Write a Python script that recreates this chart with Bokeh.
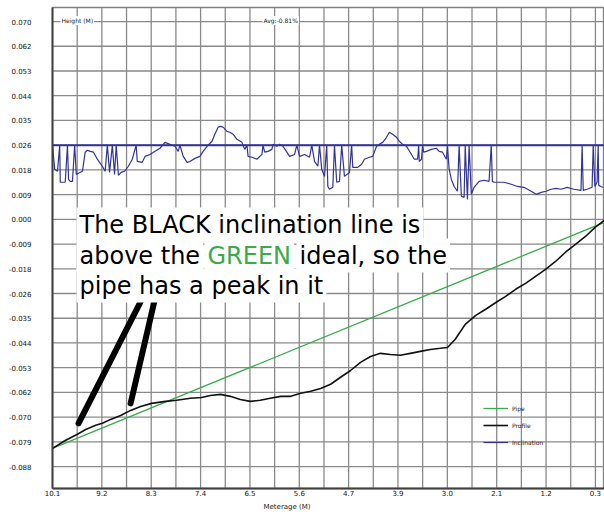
from bokeh.plotting import figure
from bokeh.models import Range1d, FixedTicker, Label, Legend, LegendItem, Span, Title
from bokeh.embed import file_html
from bokeh.resources import INLINE

# ---------------- data ----------------
x_ticks = [10.1, 9.209, 8.318, 7.427, 6.536, 5.645, 4.755, 3.864, 2.973, 2.082, 1.191, 0.3]
x_tick_labels = ["10.1", "9.2", "8.3", "7.4", "6.5", "5.6", "4.7", "3.9", "3.0", "2.1", "1.2", "0.3"]
x_grid = [10.1, 9.6545, 9.209, 8.7635, 8.318, 7.8725, 7.427, 6.9815, 6.536, 6.0905, 5.645,
          5.1995, 4.755, 4.3095, 3.864, 3.4185, 2.973, 2.5275, 2.082, 1.6365, 1.191, 0.7455, 0.3]
y_ticks = [-0.088, -0.0792, -0.0704, -0.0616, -0.0528, -0.044, -0.0352, -0.0264, -0.0176, -0.0088,
           0.0, 0.0088, 0.0176, 0.0264, 0.0352, 0.044, 0.0528, 0.0616, 0.0704]
y_tick_labels = ["-0.088", "-0.079", "-0.070", "-0.062", "-0.053", "-0.044", "-0.035", "-0.026",
                 "-0.018", "-0.009", "0.000", "0.009", "0.018", "0.026", "0.035", "0.044",
                 "0.053", "0.062", "0.070"]

incl_x = [10.10, 10.06, 10.01, 9.97, 9.96, 9.90, 9.87, 9.83, 9.81, 9.78,
          9.74, 9.70, 9.67, 9.63, 9.56, 9.51, 9.47, 9.42, 9.36, 9.29,
          9.25, 9.20, 9.15, 9.11, 9.07, 9.02, 8.98, 8.95, 8.91, 8.86,
          8.80, 8.73, 8.66, 8.59, 8.57, 8.48, 8.43, 8.34, 8.25, 8.16,
          8.07, 7.98, 7.89, 7.83, 7.80, 7.74, 7.67, 7.62, 7.53, 7.44,
          7.38, 7.31, 7.22, 7.17, 7.11, 7.06, 7.02, 6.95, 6.90, 6.84,
          6.77, 6.68, 6.63, 6.59, 6.57, 6.50, 6.41, 6.32, 6.30, 6.27,
          6.21, 6.14, 6.12, 6.05, 6.00, 5.94, 5.87, 5.82, 5.73, 5.69,
          5.64, 5.55, 5.46, 5.42, 5.37, 5.31, 5.28, 5.24, 5.19, 5.15,
          5.13, 5.10, 5.04, 5.01, 4.97, 4.92, 4.88, 4.83, 4.74, 4.70,
          4.68, 4.59, 4.52, 4.47, 4.38, 4.32, 4.25, 4.20, 4.14, 4.07,
          4.02, 3.96, 3.89, 3.84, 3.78, 3.71, 3.62, 3.57, 3.51, 3.49,
          3.48, 3.44, 3.42, 3.40, 3.35, 3.26, 3.17, 3.12, 3.06, 2.99,
          2.97, 2.95, 2.94, 2.90, 2.85, 2.79, 2.76, 2.72, 2.67, 2.65,
          2.61, 2.58, 2.54, 2.49, 2.40, 2.31, 2.22, 2.18, 2.16, 2.13,
          2.04, 1.95, 1.82, 1.71, 1.59, 1.46, 1.37, 1.28, 1.19, 1.10,
          1.01, 0.92, 0.81, 0.69, 0.56, 0.54, 0.52, 0.45, 0.36, 0.34,
          0.31, 0.27, 0.25, 0.24, 0.20, 0.16]
incl_y = [0.0264, 0.0178, 0.0171, 0.0264, 0.0132, 0.0132, 0.0132, 0.0264, 0.0142, 0.0135,
          0.0135, 0.0264, 0.0160, 0.0164, 0.0171, 0.0239, 0.0246, 0.0242, 0.0239, 0.0214,
          0.0203, 0.0189, 0.0171, 0.0264, 0.0167, 0.0264, 0.0160, 0.0264, 0.0157, 0.0167,
          0.0171, 0.0189, 0.0214, 0.0264, 0.0206, 0.0203, 0.0224, 0.0231, 0.0242, 0.0253,
          0.0274, 0.0267, 0.0260, 0.0242, 0.0264, 0.0224, 0.0203, 0.0206, 0.0217, 0.0224,
          0.0242, 0.0260, 0.0278, 0.0303, 0.0328, 0.0331, 0.0328, 0.0313, 0.0310, 0.0303,
          0.0285, 0.0274, 0.0249, 0.0264, 0.0224, 0.0221, 0.0214, 0.0231, 0.0264, 0.0239,
          0.0242, 0.0249, 0.0267, 0.0260, 0.0267, 0.0260, 0.0239, 0.0224, 0.0231, 0.0264,
          0.0224, 0.0231, 0.0221, 0.0264, 0.0206, 0.0189, 0.0264, 0.0178, 0.0153, 0.0264,
          0.0117, 0.0107, 0.0114, 0.0264, 0.0132, 0.0135, 0.0264, 0.0153, 0.0167, 0.0264,
          0.0185, 0.0185, 0.0196, 0.0214, 0.0221, 0.0224, 0.0260, 0.0267, 0.0274, 0.0292,
          0.0310, 0.0303, 0.0292, 0.0278, 0.0267, 0.0260, 0.0231, 0.0214, 0.0214, 0.0264,
          0.0206, 0.0214, 0.0264, 0.0239, 0.0242, 0.0249, 0.0253, 0.0242, 0.0239, 0.0214,
          0.0264, 0.0203, 0.0178, 0.0142, 0.0117, 0.0100, 0.0264, 0.0082, 0.0078, 0.0264,
          0.0071, 0.0264, 0.0089, 0.0114, 0.0135, 0.0139, 0.0135, 0.0264, 0.0135, 0.0132,
          0.0132, 0.0132, 0.0125, 0.0117, 0.0114, 0.0100, 0.0089, 0.0096, 0.0100, 0.0107,
          0.0110, 0.0107, 0.0114, 0.0107, 0.0103, 0.0264, 0.0103, 0.0107, 0.0114, 0.0264,
          0.0117, 0.0132, 0.0264, 0.0121, 0.0117, 0.0114]
incl_level = 0.0264

prof_x = [10.10, 9.87, 9.65, 9.50, 9.32, 9.20, 9.05, 8.87, 8.69, 8.51,
          8.31, 8.06, 7.86, 7.61, 7.41, 7.25, 7.07, 6.89, 6.71, 6.53,
          6.35, 6.17, 5.98, 5.80, 5.62, 5.44, 5.26, 5.08, 4.90, 4.72,
          4.54, 4.36, 4.18, 4.00, 3.82, 3.64, 3.46, 3.28, 3.10, 2.97,
          2.83, 2.65, 2.46, 2.28, 2.09, 1.92, 1.74, 1.56, 1.38, 1.20,
          1.02, 0.84, 0.66, 0.48, 0.30, 0.14]
prof_y = [-0.0815, -0.0787, -0.0765, -0.0748, -0.0733, -0.0726, -0.0712, -0.0698, -0.0680, -0.0666,
          -0.0655, -0.0648, -0.0644, -0.0637, -0.0634, -0.0627, -0.0623, -0.0630, -0.0641, -0.0648,
          -0.0644, -0.0637, -0.0630, -0.0630, -0.0619, -0.0612, -0.0602, -0.0587, -0.0562, -0.0538,
          -0.0509, -0.0488, -0.0477, -0.0481, -0.0484, -0.0477, -0.0470, -0.0463, -0.0459, -0.0456,
          -0.0427, -0.0374, -0.0342, -0.0320, -0.0295, -0.0274, -0.0249, -0.0228, -0.0203, -0.0178,
          -0.0150, -0.0117, -0.0089, -0.0061, -0.0028, -0.0004]

pipe_x = [10.10, 0.14]
pipe_y = [-0.0815, -0.0011]

# hand-drawn pointer strokes (annotation)
mark_x0 = [9.63, 8.69]
mark_y0 = [-0.0726, -0.0655]
mark_x1 = [8.46, 8.24]
mark_y1 = [-0.0274, -0.0274]

NAVY = "#33339a"
GREEN = "#3aaa4a"
BLACK = "#111111"
GRID = "#8a8a8a"

X0, X1 = 10.1, 0.136
Y0, Y1 = -0.0958, 0.0754

p = figure(width=604, height=514,
           x_range=Range1d(X0, X1), y_range=Range1d(Y0, Y1),
           output_backend="svg", toolbar_location=None,
           min_border_left=52, min_border_right=0, min_border_top=7, min_border_bottom=26)

p.outline_line_color = "#808080"
p.outline_line_width = 1.3

# axes
p.xaxis.ticker = FixedTicker(ticks=x_ticks)
p.xaxis.major_label_overrides = {t: l for t, l in zip(x_ticks, x_tick_labels)}
p.yaxis.ticker = FixedTicker(ticks=y_ticks)
p.yaxis.major_label_overrides = {t: l for t, l in zip(y_ticks, y_tick_labels)}
for ax in (p.xaxis, p.yaxis):
    ax.major_tick_out = 0
    ax.major_tick_in = 0
    ax.minor_tick_out = 0
    ax.minor_tick_in = 0
    ax.axis_line_color = "#404040"
    ax.axis_line_width = 2
    ax.major_label_text_font = "DejaVu Sans"
    ax.major_label_text_font_size = "7px"
    ax.major_label_text_color = "#111111"
p.xaxis.major_label_standoff = 1
p.xaxis.major_label_text_align = "right"
p.yaxis.major_label_standoff = 21

# axis caption under the x axis, offset to the left like the original
p.add_layout(Title(text="Meterage (M)", align="left", offset=211, standoff=5,
                   text_font="DejaVu Sans", text_font_size="7px", text_font_style="normal",
                   text_color="#222222"), "below")

# grid drawn as plain lines beneath the data
p.xgrid.grid_line_color = None
p.ygrid.grid_line_color = None
p.multi_line(xs=[[g, g] for g in x_grid[1:]], ys=[[Y0, Y1] for g in x_grid[1:]],
             line_color=GRID, line_width=1.3)
p.multi_line(xs=[[X0, X1] for g in y_ticks], ys=[[g, g] for g in y_ticks],
             line_color=GRID, line_width=1.3)

# series
p.add_layout(Span(location=incl_level, dimension="width", line_color=NAVY, line_width=2))
r_incl = p.line(incl_x, incl_y, line_color=NAVY, line_width=1.2)
r_pipe = p.line(pipe_x, pipe_y, line_color=GREEN, line_width=1.3)
r_prof = p.line(prof_x, prof_y, line_color=BLACK, line_width=1.6)

# annotation strokes
p.segment(mark_x0, mark_y0, mark_x1, mark_y1, line_color="black", line_width=6, line_cap="round")

# annotation text
FS = "24px"
common = dict(x_units="screen", y_units="screen", text_font="DejaVu Sans", text_font_size=FS,
              text_baseline="alphabetic", background_fill_color="white", padding=3)
p.add_layout(Label(x=24, y=264, text="The BLACK inclination line is", text_color="black", **common))
p.add_layout(Label(x=24, y=233, text="above the", text_color="black", **common))
p.add_layout(Label(x=152, y=233, text="GREEN", text_color=GREEN, **common))
p.add_layout(Label(x=244, y=233, text="ideal, so the", text_color="black", **common))
p.add_layout(Label(x=24, y=203, text="pipe has a peak in it", text_color="black", **common))

small = dict(x_units="screen", y_units="screen", text_font="DejaVu Sans", text_font_size="6px",
             text_baseline="middle", background_fill_color="white", padding=1, text_color="#222222")
p.add_layout(Label(x=8, y=468, text="Height (M)", **small))
p.add_layout(Label(x=210, y=468, text="Avg:-0.81%", **small))

legend = Legend(items=[LegendItem(label="Pipe", renderers=[r_pipe]),
                       LegendItem(label="Profile", renderers=[r_prof]),
                       LegendItem(label="Inclination", renderers=[r_incl])],
                location=(431, 41), background_fill_alpha=0, border_line_alpha=0,
                padding=0, margin=0, spacing=7, glyph_width=25, glyph_height=10,
                label_height=10, label_standoff=4, label_text_font="DejaVu Sans",
                label_text_font_size="6px", label_text_color="#222222")
p.add_layout(legend)

open("out.html", "w").write(file_html(p, INLINE))
